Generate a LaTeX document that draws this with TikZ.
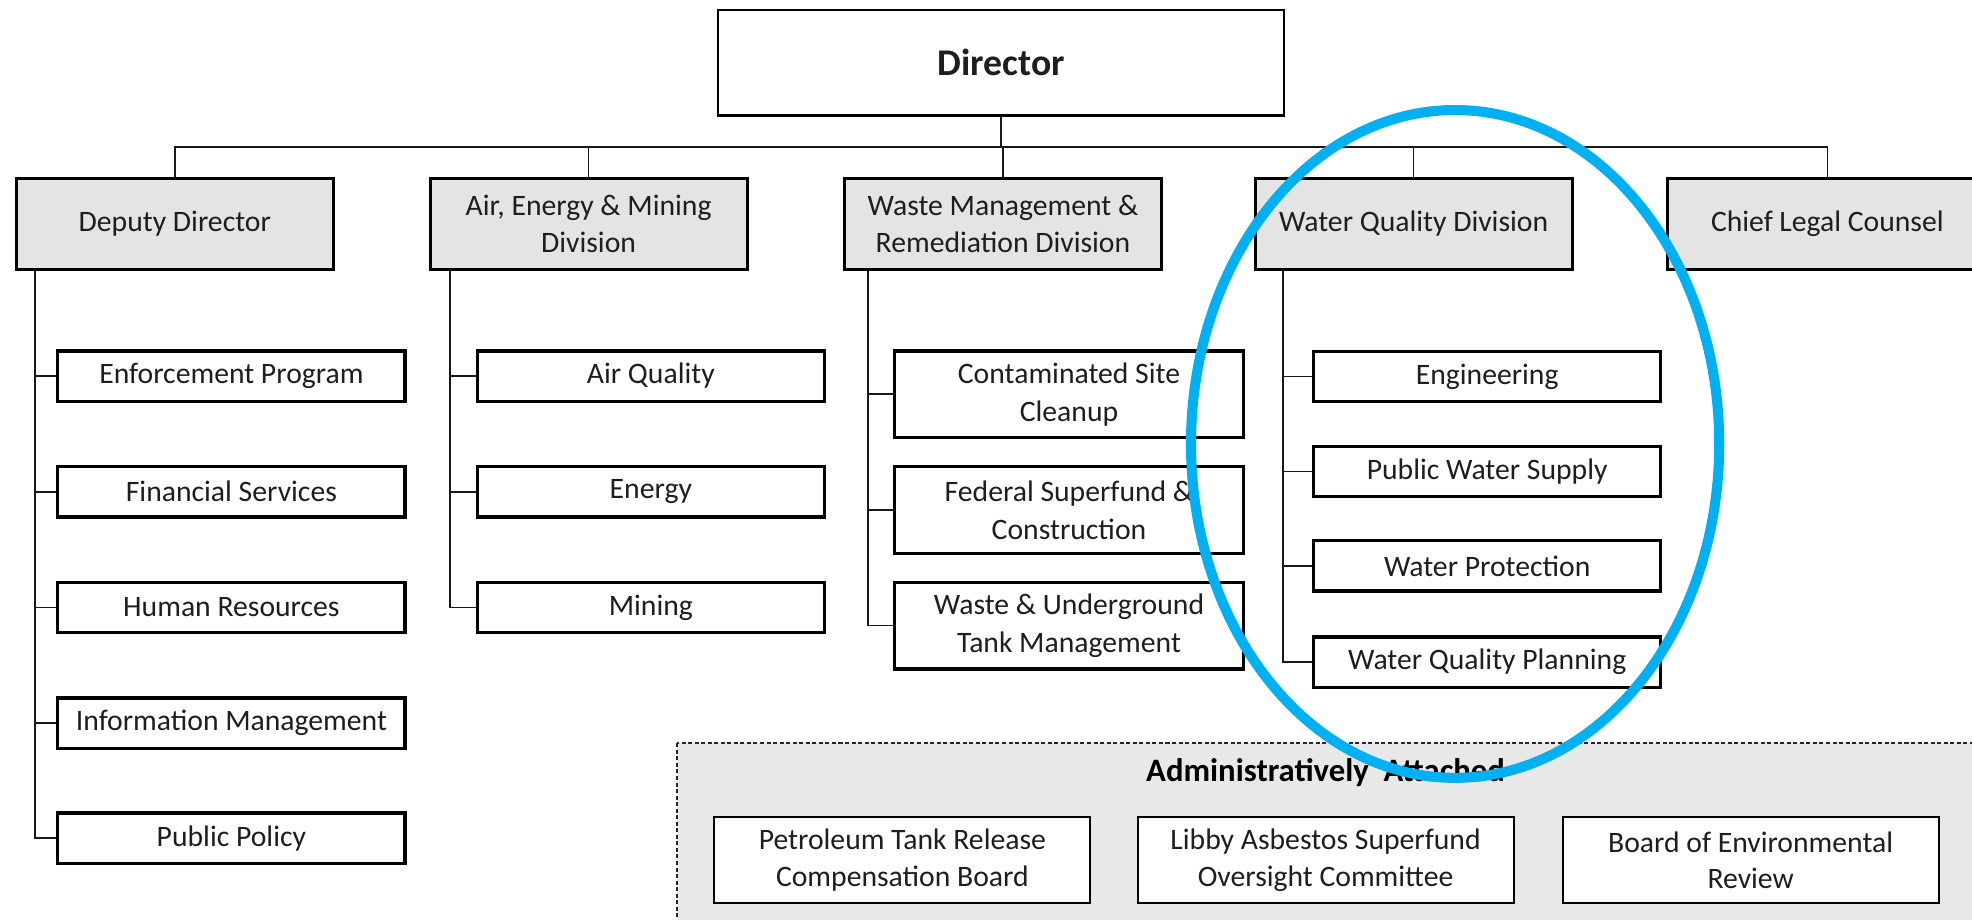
\documentclass[tikz,border=0pt]{standalone}
\usepackage{fontspec}
\setmainfont{Carlito}
\definecolor{divgray}{HTML}{E4E4E4}
\definecolor{admgray}{HTML}{E8E8E8}
\definecolor{txt}{HTML}{1E1E1E}
\definecolor{wqblue}{HTML}{00B0F0}
\begin{document}
\begin{tikzpicture}[x=0.5pt,y=-0.5pt,
  base/.style={draw=black,text=txt,align=center,inner sep=0pt,font=\fontsize{11.8pt}{15pt}\selectfont},
  dirbox/.style={base,line width=1pt,fill=white,minimum width=225pt,minimum height=42pt,font=\fontsize{15pt}{18pt}\selectfont\bfseries},
  divbox/.style={base,line width=1.2pt,fill=divgray,minimum width=126pt,minimum height=36pt},
  unitbox/.style={base,line width=1.3pt,fill=white,minimum width=138pt,minimum height=20pt},
  tallbox/.style={base,line width=1.3pt,fill=white,minimum width=139pt,minimum height=34.5pt},
  admbox/.style={base,line width=0.8pt,fill=white,minimum width=149.5pt,minimum height=34pt,font=\fontsize{11.8pt}{14.5pt}\selectfont},
  conn/.style={line width=0.65pt,draw=black!90}]
\clip (0,0) rectangle (1568,731);
\fill[white] (0,0) rectangle (1568,731);

% Director
\node[dirbox] (dir) at (796,50) {Director};

% Divisions
\node[divbox] (dep) at (139,178) {\raisebox{-1pt}{Deputy Director}};
\node[divbox] (air) at (468,178) {Air, Energy \& Mining\\Division};
\node[divbox] (wst) at (797.5,178) {Waste Management \&\\Remediation Division};
\node[divbox] (wqd) at (1124,178) {\raisebox{-1pt}{Water Quality Division}};
\node[divbox,minimum width=127pt] (clc) at (1453,178) {\raisebox{-1pt}{Chief Legal Counsel}};

% Bus
\coordinate (busy) at (0,117);
\draw[conn] (dir.south) -- (dir.south |- busy);
\draw[conn] (dep.north) |- (clc.north |- busy) -- (clc.north);
\draw[conn] (air.north) -- (air.north |- busy);
\draw[conn] (wst.north) -- (wst.north |- busy);
\draw[conn] (wqd.north) -- (wqd.north |- busy);

% Deputy children
\node[unitbox] (ep) at (184,299) {Enforcement Program};
\node[unitbox] (fs) at (184,391) {Financial Services};
\node[unitbox] (hr) at (184,483) {Human Resources};
\node[unitbox] (im) at (184,575) {Information Management};
\node[unitbox] (pp) at (184,666.5) {Public Policy};
\coordinate (dx) at (28,0);
\draw[conn] (dep.south -| dx) |- (pp.west);
\foreach \n in {ep,fs,hr,im} \draw[conn] (\n.west) -- (\n.west -| dx);

% Air children
\node[unitbox] (aq) at (517.5,299) {Air Quality};
\node[unitbox] (en) at (517.5,391) {Energy};
\node[unitbox] (mi) at (517.5,483) {Mining};
\coordinate (ax) at (358,0);
\draw[conn] (air.south -| ax) |- (mi.west);
\foreach \n in {aq,en} \draw[conn] (\n.west) -- (\n.west -| ax);

% Waste children
\node[tallbox] (cs) at (850,313.5) {Contaminated Site\\Cleanup};
\node[tallbox] (fsc) at (850,405.5) {Federal Superfund \&\\Construction};
\node[tallbox] (wut) at (850,497.5) {Waste \& Underground\\Tank Management};
\coordinate (wx) at (690,0);
\draw[conn] (wst.south -| wx) |- (wut.west);
\foreach \n in {cs,fsc} \draw[conn] (\n.west) -- (\n.west -| wx);

% Water children
\node[unitbox] (eng) at (1182.5,299.5) {Engineering};
\node[unitbox] (pws) at (1182.5,375) {Public Water Supply};
\node[unitbox] (wp) at (1182.5,450) {Water Protection};
\node[unitbox] (wqp) at (1182.5,526.5) {Water Quality Planning};
\coordinate (qx) at (1020,0);
\draw[conn] (wqd.south -| qx) |- (wqp.west);
\foreach \n in {eng,pws,wp} \draw[conn] (\n.west) -- (\n.west -| qx);

% Administratively attached
\draw[fill=admgray,draw=black!85,line width=0.9pt,dash pattern=on 1.6pt off 1pt] (538.5,591) rectangle (1600,760);
\node[text=black,font=\fontsize{13pt}{15pt}\selectfont\bfseries] (adm) at (1054,614) {Administratively\ \ Attached};
\node[admbox] (ptr) at (717.5,684) {Petroleum Tank Release\\Compensation Board};
\node[admbox] (lib) at (1054,684) {Libby Asbestos Superfund\\Oversight Committee};
\node[admbox] (ber) at (1392,684) {Board of Environmental\\Review};

% Highlight ellipse
\draw[line width=4pt,draw=wqblue] (1157,353) ellipse [x radius=105pt, y radius=132.75pt];
\end{tikzpicture}
\end{document}
